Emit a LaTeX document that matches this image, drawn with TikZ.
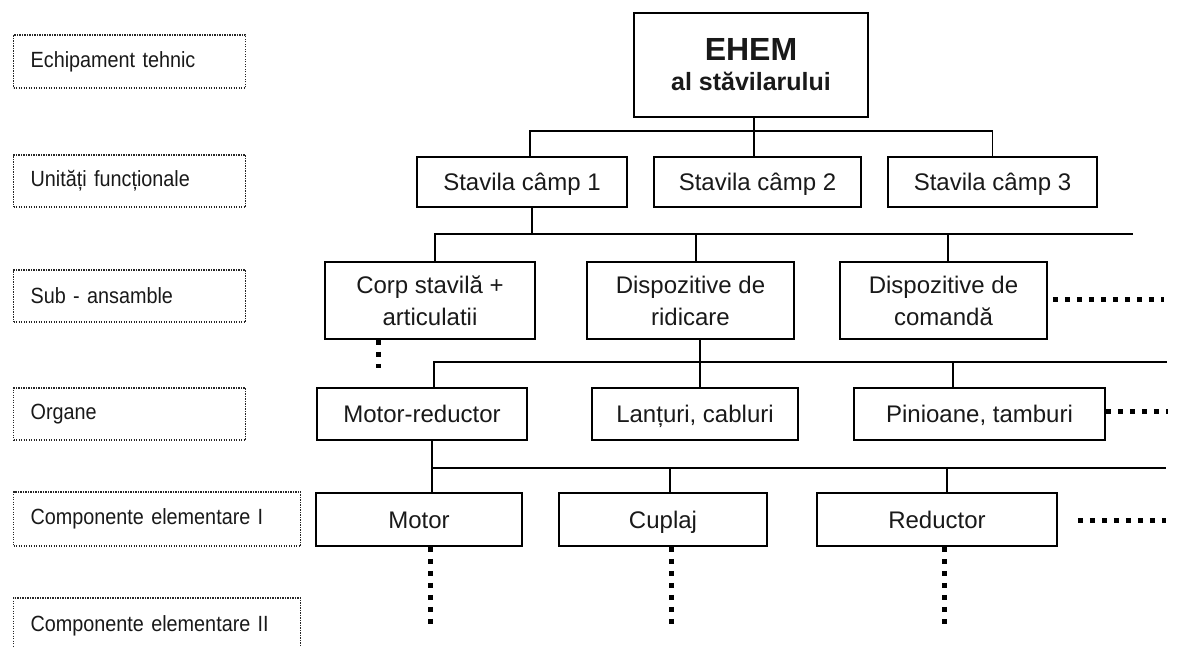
\documentclass[tikz,border=0pt]{standalone}
\usepackage{fontspec}
\setmainfont{Liberation Sans}
\newfontfamily\lblfont[FakeStretch=0.9]{Liberation Sans}
\begin{document}
\begin{tikzpicture}[x=1pt,y=-1pt,
  lvl/.style={draw=black!85, line width=1.3pt, dash pattern=on 1.2pt off 1.3pt,
    anchor=west, inner xsep=17pt, inner ysep=0pt, align=left,
    font=\lblfont\fontsize{22}{24}\selectfont, text=black!90},
  box/.style={draw, line width=1.8pt, inner sep=0pt, align=center,
    font=\fontsize{24}{32}\selectfont, text=black!90},
  one/.style={text height=19pt, text depth=2pt},
  conn/.style={line width=1.8pt},
  bigdots/.style={line width=5pt, dash pattern=on 5pt off 7pt}]
\useasboundingbox (0,0) rectangle (1177,647);
\clip (0,0) rectangle (1177,647);
% level labels
\node[lvl, text width=198pt, minimum height=53pt] (l1) at (13,61.5) {Echipament tehnic};
\node[lvl, text width=198pt, minimum height=52pt] (l2) at (13,181) {Unități funcționale};
\node[lvl, text width=198pt, minimum height=52pt] (l3) at (13,296) {Sub - ansamble};
\node[lvl, text width=198pt, minimum height=52pt] (l4) at (13,414) {Organe};
\node[lvl, text width=253pt, minimum height=54pt] (l5) at (13,519) {Componente elementare I};
\node[lvl, text width=253pt, minimum height=56pt] (l6) at (13,626) {Componente elementare II};
% boxes
\node[box, minimum width=234pt, minimum height=104pt] (ehem) at (751,65)
  {{\fontsize{32}{36}\selectfont\bfseries EHEM}\\[-2pt]{\fontsize{25}{30}\selectfont\bfseries al stăvilarului}};
\node[box, one, minimum width=210pt, minimum height=50pt] (s1) at (522,182) {Stavila câmp 1};
\node[box, one, minimum width=207pt, minimum height=50pt] (s2) at (757.5,182) {Stavila câmp 2};
\node[box, one, minimum width=209pt, minimum height=50pt] (s3) at (992.5,182) {Stavila câmp 3};
\node[box, minimum width=210pt, minimum height=77pt] (corp) at (430,300.5) {Corp stavilă +\\articulatii};
\node[box, minimum width=207pt, minimum height=77pt] (rid) at (690.5,300.5) {Dispozitive de\\ridicare};
\node[box, minimum width=207pt, minimum height=77pt] (com) at (943.5,300.5) {Dispozitive de\\comandă};
\node[box, one, minimum width=210pt, minimum height=52pt] (mr) at (422,414) {Motor-reductor};
\node[box, one, minimum width=206pt, minimum height=52pt] (lant) at (695,414) {Lanțuri, cabluri};
\node[box, one, minimum width=251pt, minimum height=52pt] (pin) at (979.5,414) {Pinioane, tamburi};
\node[box, one, minimum width=206pt, minimum height=53pt] (mot) at (419,519.5) {Motor};
\node[box, one, minimum width=208pt, minimum height=53pt] (cup) at (663,519.5) {Cuplaj};
\node[box, one, minimum width=240pt, minimum height=53pt] (red) at (937,519.5) {Reductor};
% level 1 connectors
\coordinate (b1) at (0,131);
\draw[conn] ([xshift=3pt]ehem.south) -- ([xshift=3pt]ehem.south |- s2.north);
\draw[conn] ([xshift=8pt]s1.north) |- (b1 -| s3.north) -- (s3.north);
% level 2 connectors
\coordinate (e2) at (1133,234);
\draw[conn] ([xshift=10pt]s1.south) -- ([xshift=10pt]s1.south |- e2);
\draw[conn] ([xshift=5pt]corp.north) |- (e2);
\draw[conn] ([xshift=5.5pt]rid.north) -- ([xshift=5.5pt]rid.north |- e2);
\draw[conn] ([xshift=4.5pt]com.north) -- ([xshift=4.5pt]com.north |- e2);
% level 3 connectors
\coordinate (e3) at (1167,362);
\draw[conn] ([xshift=9.5pt]rid.south) -- ([xshift=9.5pt]rid.south |- lant.north);
\draw[conn] ([xshift=12pt]mr.north) |- (e3);
\draw[conn] ([xshift=-26.5pt]pin.north) -- ([xshift=-26.5pt]pin.north |- e3);
% level 4 connectors
\coordinate (e4) at (1166,468);
\draw[conn] ([xshift=10pt]mr.south) -- ([xshift=10pt]mr.south |- e4) -- (e4);
\draw[conn] ([xshift=13pt]mot.north) -- ([xshift=13pt]mot.north |- e4);
\draw[conn] ([xshift=7pt]cup.north) -- ([xshift=7pt]cup.north |- e4);
\draw[conn] ([xshift=10pt]red.north) -- ([xshift=10pt]red.north |- e4);
% continuation dots
\coordinate (dcorp) at (378,368);
\coordinate (dcom) at (1164,299);
\coordinate (dpin) at (1168,411);
\coordinate (dred) at (1166,520);
\coordinate (dmot) at (430,628);
\coordinate (dcup) at (671,624);
\coordinate (dredd) at (944,624);
\draw[bigdots] (corp.south -| dcorp) -- (dcorp);
\draw[bigdots] ([xshift=5pt]com.east |- dcom) -- (dcom);
\draw[bigdots] (pin.east |- dpin) -- (dpin);
\draw[bigdots] ([xshift=20pt]red.east |- dred) -- (dred);
\draw[bigdots] (mot.south -| dmot) -- (dmot);
\draw[bigdots] (cup.south -| dcup) -- (dcup);
\draw[bigdots] (red.south -| dredd) -- (dredd);
\end{tikzpicture}
\end{document}
